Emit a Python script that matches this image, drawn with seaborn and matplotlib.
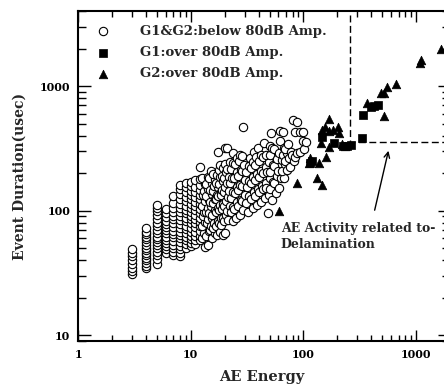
import numpy as np
import pandas as pd
import seaborn as sns
import matplotlib.pyplot as plt
from matplotlib.ticker import FuncFormatter, NullFormatter

# G1&G2 below 80 dB amplitude, low energies: discrete energy columns
below_low_energy = [3, 4, 5, 6, 7, 8, 9, 10, 11, 12]
below_low_duration = [
    [31, 33, 35, 37, 40, 43, 46, 49],
    [35, 36, 38, 40, 42, 44, 46, 48, 50, 53, 56, 59, 62, 65, 68, 72],
    [37, 41, 44, 47, 50, 53, 56, 59, 62, 66, 70, 75, 80, 86, 93, 100, 106, 112],
    [46, 49, 52, 55, 58, 62, 66, 70, 74, 78, 83, 89, 96, 104],
    [44, 47, 50, 53, 57, 61, 65, 69, 74, 79, 85, 91, 98, 106, 116, 130],
    [43, 46, 49, 52, 56, 60, 64, 68, 73, 78, 84, 90, 97, 105, 114, 124, 135, 148, 160],
    [50, 54, 58, 62, 66, 71, 76, 82, 88, 95, 102, 110, 119, 129, 140, 156, 167],
    [52, 55, 59, 63, 68, 73, 79, 85, 91, 98, 106, 114, 123, 133, 144, 158, 171],
    [54, 58, 63, 68, 74, 80, 86, 93, 101, 109, 118, 128, 140, 155, 176],
    [58, 63, 69, 75, 81, 88, 96, 104, 113, 123, 134, 147, 162, 178, 226],
]

# G1&G2 below 80 dB amplitude, higher energies: read point by point
below_mid_energy = [
    13.3, 12.7, 13.1, 12.6, 13.4, 12.9, 13.2, 12.7, 13.4, 12.8, 13.1, 13.4, 12.6,
    14.2, 13.7, 14.4, 13.9, 14.3, 13.6, 14.1, 14.4, 13.8, 14.2, 13.7, 14.3,
    15.3, 14.7, 15.1, 15.4, 14.6, 15.2, 14.8, 15.4, 14.9, 15.3, 14.6, 15.1,
    16.4, 15.8, 16.2, 15.6, 16.4, 15.9, 16.3, 15.7, 16.1, 16.4, 15.8,
    17.2, 16.7, 17.4, 16.8, 17.3, 16.6, 17.1, 17.4, 16.8, 17.2, 17.4,
    18.3, 17.7, 18.4, 17.9, 18.2, 17.6, 18.4, 17.8, 18.2, 17.7, 18.3,
    19.2, 18.7, 19.4, 18.8, 19.3, 18.6, 19.1, 19.4, 18.8, 19.2,
    20.2, 19.7, 20.5, 19.8, 20.4, 19.6, 20.3, 19.9, 20.6, 20.1, 20.0,
    21.5, 21.0, 22.1, 21.2, 22.0, 20.9, 21.8, 21.1, 22.1, 20.9,
    23.5, 22.6, 23.8, 22.9, 23.6, 22.5, 23.4, 22.8, 23.7, 23.9,
    25.2, 24.3, 25.7, 24.6, 25.9, 24.4, 25.5, 24.7, 25.8,
    27.6, 26.3, 27.8, 26.5, 27.4, 26.2, 27.7, 26.6, 27.3,
    29.3, 28.4, 30.2, 28.6, 30.0, 28.3, 29.8, 28.7, 29.3,
    32.4, 31.0, 33.2, 31.4, 33.0, 30.8, 32.6, 33.5,
    35.8, 34.2, 36.2, 34.5, 36.0, 34.0, 35.5, 36.4,
    38.5, 37.0, 39.5, 37.3, 39.0, 36.8, 38.0, 39.4,
    42.0, 40.2, 42.5, 40.5, 42.2, 40.0, 41.6,
    46.0, 43.5, 46.5, 44.0, 46.2, 43.6, 45.0,
    48.0, 49.5, 47.0, 50.0, 47.5, 49.8, 46.8, 50.0,
    52.4, 50.5, 54.0, 51.0, 53.5, 50.6, 53.0, 52.0,
    57.0, 54.5, 58.5, 55.0, 58.0, 54.6,
    60.5, 63.5, 60.0, 64.0, 61.0, 62.0, 62.0,
    67.0, 65.0, 68.5, 65.5, 67.5, 66.0,
    71.0, 69.0, 72.0, 68.5,
    76.0, 74.0, 77.5, 73.5,
    82.0, 79.5, 81.0,
    84.5, 84.0,
    88.5, 88.0,
    93.0, 93.0,
    101.0, 98.5, 100.0,
    106.0,
]
below_mid_duration = [
    51, 60, 66, 75, 81, 91, 98, 110, 119, 133, 145, 163, 182,
    53, 63, 69, 79, 86, 98, 106, 121, 131, 150, 163, 186,
    60, 70, 76, 88, 95, 109, 117, 135, 146, 168, 184, 210,
    66, 73, 80, 93, 101, 116, 125, 144, 157, 181, 198,
    64, 76, 83, 97, 105, 123, 133, 154, 168, 194, 297,
    68, 79, 87, 102, 112, 130, 141, 164, 185, 213, 233,
    64, 77, 87, 103, 113, 134, 147, 172, 190, 221,
    66, 82, 92, 109, 120, 142, 156, 183, 204, 239, 318,
    84, 99, 110, 129, 143, 168, 186, 218, 244, 316,
    82, 97, 108, 127, 141, 166, 184, 216, 240, 289,
    88, 104, 117, 139, 154, 182, 203, 238, 265,
    92, 109, 122, 146, 162, 191, 213, 250, 280,
    101, 119, 133, 158, 176, 208, 231, 274, 466,
    98, 116, 130, 155, 173, 205, 228, 263,
    106, 125, 140, 167, 187, 221, 248, 293,
    111, 131, 148, 176, 197, 233, 268, 320,
    118, 140, 157, 187, 210, 249, 280,
    126, 149, 168, 200, 226, 268, 347,
    95, 134, 153, 182, 206, 246, 280, 330,
    122, 150, 170, 204, 233, 279, 318, 418,
    138, 166, 190, 228, 260, 310,
    151, 183, 210, 254, 292, 365, 438,
    183, 208, 236, 280, 320, 430,
    212, 252, 288, 311,
    225, 266, 298, 345,
    250, 282, 534,
    271, 430,
    290, 518,
    297, 430,
    310, 360, 430,
    358,
]

# G1 over 80 dB amplitude (filled squares)
g1_energy = [114, 118, 147, 187, 226, 242, 263, 331, 336, 400, 425, 455]
g1_duration = [240, 252, 387, 347, 330, 333, 338, 383, 587, 682, 690, 700]

# G2 over 80 dB amplitude (filled triangles)
g2_energy = [61, 88, 132, 146, 111, 114, 138, 159, 167, 156, 183, 201, 208, 146,
             170, 144, 170, 220, 235, 522, 367, 491, 522, 552, 664, 1090, 1095, 1675]
g2_duration = [99, 168, 182, 161, 240, 263, 240, 268, 547, 467, 444, 467, 421, 444,
               436, 347, 326, 343, 330, 574, 726, 884, 884, 987, 1038, 1538, 1617, 1968]

labels = ["G1&G2:below 80dB Amp.", "G1:over 80dB Amp.", "G2:over 80dB Amp."]
x_ticks = [1, 10, 100, 1000]
y_ticks = [10, 100, 1000]

# delamination region boundary (dashed box)
delam_energy_min = 260
delam_duration_min = 355
delam_duration_top = 3700

low_e = [e for e, col in zip(below_low_energy, below_low_duration) for _ in col]
low_d = [d for col in below_low_duration for d in col]
df_below = pd.DataFrame({
    "energy": low_e + below_mid_energy,
    "duration": low_d + below_mid_duration,
})
df_g1 = pd.DataFrame({"energy": g1_energy, "duration": g1_duration})
df_g2 = pd.DataFrame({"energy": g2_energy, "duration": g2_duration})

sns.set_style("ticks")
plt.rcParams["font.family"] = ["DejaVu Serif"]
plt.rcParams["font.weight"] = "bold"

fig = plt.figure(figsize=(4.44, 3.88), dpi=100)
ax = fig.add_axes([0.1757, 0.1211, 0.838, 0.8505])

sns.scatterplot(data=df_below, x="energy", y="duration", marker="o", s=36,
                color="black", facecolor="white", edgecolor="black",
                linewidth=0.8, label=labels[0], ax=ax, zorder=2)
sns.scatterplot(data=df_g1, x="energy", y="duration", marker="s", s=28,
                color="black", edgecolor="black", linewidth=0.5,
                label=labels[1], ax=ax, zorder=3)
sns.scatterplot(data=df_g2, x="energy", y="duration", marker="^", s=38,
                color="black", edgecolor="black", linewidth=0.5,
                label=labels[2], ax=ax, zorder=3)

ax.set_xscale("log")
ax.set_yscale("log")
ax.set_xlim(1, 2000)
ax.set_ylim(9, 4000)

ax.set_xticks(x_ticks)
ax.set_yticks(y_ticks)
fmt = FuncFormatter(lambda v, p: f"{v:g}")
ax.xaxis.set_major_formatter(fmt)
ax.yaxis.set_major_formatter(fmt)
ax.xaxis.set_minor_formatter(NullFormatter())
ax.yaxis.set_minor_formatter(NullFormatter())

ax.tick_params(which="both", direction="in", top=True, right=True,
               width=1, labelsize=8, colors="black")
ax.tick_params(axis="x", which="major", length=8, pad=6)
ax.tick_params(axis="x", which="minor", length=4.3)
ax.tick_params(axis="y", which="major", length=9, pad=5.5)
ax.tick_params(axis="y", which="minor", length=5.8)
for sp in ax.spines.values():
    sp.set_linewidth(1.5)
    sp.set_color("black")

ax.set_xlabel("AE Energy", fontsize=10.5, fontweight="bold")
ax.set_ylabel("Event Duration(usec)", fontsize=10, fontweight="bold")
ax.xaxis.set_label_coords(0.495, -0.088)
ax.yaxis.set_label_coords(-0.137, 0.5)

# dashed box marking the delamination activity
ax.plot([delam_energy_min, delam_energy_min, 2000],
        [delam_duration_top, delam_duration_min, delam_duration_min],
        color="black", lw=1, linestyle=(0, (5, 2.5)), zorder=1)

ax.annotate("", xy=(575, 318), xytext=(423, 96),
            arrowprops=dict(arrowstyle="->", color="black", lw=1,
                            mutation_scale=10))
ax.text(63, 81, "AE Activity related to-\nDelamination", fontsize=9,
        fontweight="bold", va="top", ha="left", linespacing=1.3)

ax.legend(loc="upper left", bbox_to_anchor=(0.031, 0.958), frameon=False,
          borderpad=0, borderaxespad=0, handlelength=2, handletextpad=1.8,
          labelspacing=0.62, prop=dict(size=9.5, weight="bold"))

fig.savefig("out.png", dpi=100)
